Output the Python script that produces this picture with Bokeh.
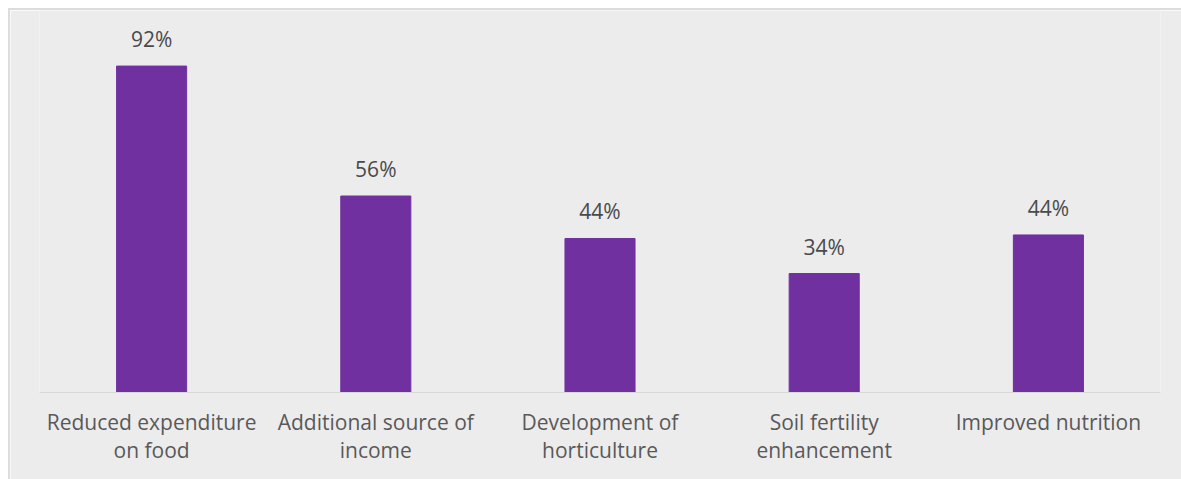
from bokeh.plotting import figure
from bokeh.models import ColumnDataSource, Range1d
from bokeh.core.properties import value
from bokeh.embed import file_html
from bokeh.resources import INLINE

categories = ["Reduced expenditure\non food", "Additional source of\nincome",
              "Development of\nhorticulture", "Soil fertility\nenhancement",
              "Improved nutrition"]
values = [92.2, 55.5, 43.5, 33.6, 44.5]
labels = ["92%", "56%", "44%", "34%", "44%"]

src = ColumnDataSource(dict(cat=categories, val=values, lab=labels))

BG = "#ececec"
p = figure(x_range=categories, y_range=Range1d(0, 107.9), width=1173, height=471,
           output_backend="svg", toolbar_location=None,
           min_border_left=29, min_border_right=23, min_border_top=0, min_border_bottom=89)
p.margin = (8, 0, 0, 8)
p.styles = {"border-top": "2px solid #dcdcdc", "border-left": "2px solid #dcdcdc",
            "box-sizing": "border-box"}
p.background_fill_color = BG
p.border_fill_color = BG
p.outline_line_color = None
p.grid.visible = False
p.yaxis.visible = False

p.vbar(x="cat", top="val", width=0.3125, source=src, color="#7030A0", line_color="#7030A0")
p.text(x="cat", y="val", text="lab", source=src, y_offset=-27, text_align="center",
       text_baseline="alphabetic", text_font=value("Open Sans"), text_font_size="21px",
       text_color="#4a4a4a")

ax = p.xaxis[0]
ax.axis_line_color = "#d9d9d9"
ax.axis_line_width = 1
ax.major_tick_line_color = None
ax.minor_tick_line_color = None
ax.major_label_standoff = 9
ax.major_label_text_font = "Open Sans"
ax.major_label_text_font_size = "21px"
ax.major_label_text_line_height = 1.0
ax.major_label_text_color = "#595959"

open("out.html", "w").write(file_html(p, INLINE))
